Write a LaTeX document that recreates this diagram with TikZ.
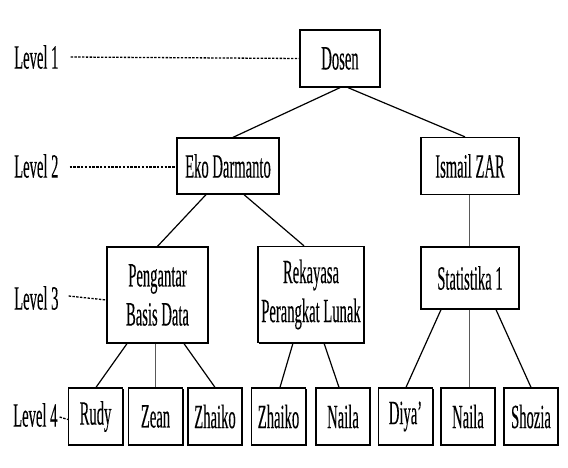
\documentclass[tikz,border=0pt]{standalone}
\usepackage{fontspec}
\setmainfont{Liberation Serif}[FakeStretch=0.43,FakeBold=0.2]
\usetikzlibrary{shadows}
\begin{document}
\begin{tikzpicture}[x=1pt,y=-1pt,
  every node/.style={font=\fontsize{34}{39}\selectfont},
  box/.style={draw=black, line width=1.3pt, fill=white, inner sep=0pt, align=center,
    drop shadow={shadow xshift=1pt, shadow yshift=-1pt, fill=black, opacity=1}},
  leaf/.style={box, minimum width=54pt, minimum height=57pt},
  lvl/.style={anchor=west, inner sep=0pt},
  link/.style={line width=1.2pt, black},
  vlink/.style={line width=0.9pt, black!65},
  dots/.style={line width=1.3pt, dash pattern=on 2.4pt off 1.4pt}]
\useasboundingbox (0,0) rectangle (568,468);

% level 1-2
\node[box, minimum width=80pt, minimum height=57pt] (dosen) at (340,58.5) {Dosen};
\node[box, minimum width=102pt, minimum height=56pt] (eko) at (228,166) {Eko Darmanto};
\node[box, minimum width=98pt, minimum height=57pt] (ismail) at (470,166) {Ismail ZAR};
% level 3
\node[box, minimum width=101pt, minimum height=96pt] (peng) at (157.5,295) {Pengantar\\Basis Data};
\node[box, minimum width=106pt, minimum height=96pt] (reka) at (311,294.5) {Rekayasa\\Perangkat Lunak};
\node[box, minimum width=98pt, minimum height=62pt] (stat) at (470,278) {Statistika 1};
% level 4
\node[leaf] (rudy) at (95.5,416.5) {Rudy};
\node[leaf] (zean) at (155.5,416.5) {Zean};
\node[leaf] (zhaikoa) at (215,416.5) {Zhaiko};
\node[leaf] (zhaikob) at (278.5,416.5) {Zhaiko};
\node[leaf] (nailaa) at (343,416.5) {Naila};
\node[leaf] (diya) at (405.5,416.5) {Diya’};
\node[leaf] (nailab) at (468,416.5) {Naila};
\node[leaf] (shozia) at (531,416.5) {Shozia};

% level labels
\node[lvl] (l1) at (14,57) {Level 1};
\node[lvl] (l2) at (14,166) {Level 2};
\node[lvl] (l3) at (14,298) {Level 3};
\node[lvl] (l4) at (13,415) {Level 4};

\draw[dots] ([xshift=12pt]l1.east) -- (dosen.west);
\draw[dots] ([xshift=11pt,yshift=-1pt]l2.east) -- ([yshift=-1pt]eko.west);
\draw[dots] ([xshift=10pt,yshift=2pt]l3.east) -- (peng.west |- 0,300);
\draw[dots] ([xshift=2pt,yshift=-2pt]l4.east) -- ([yshift=-3pt]rudy.west);

% connectors
\draw[link] (dosen.south) -- ([xshift=5pt]eko.north);
\draw[link] ([xshift=8pt]dosen.south) -- ([xshift=-5pt]ismail.north);
\draw[vlink] ([xshift=-1pt]ismail.south) -- ([xshift=-1pt]stat.north);
\draw[link] ([xshift=-22pt]eko.south) -- (peng.north);
\draw[link] ([xshift=16pt]eko.south) -- ([xshift=-7pt]reka.north);
\draw[link] ([xshift=-30.5pt]peng.south) -- ([xshift=0.5pt]rudy.north);
\draw[vlink] (zean.north |- peng.south) -- (zean.north);
\draw[link] ([xshift=26.5pt]peng.south) -- (zhaikoa.north);
\draw[link] ([xshift=-18pt]reka.south) -- ([xshift=1.5pt]zhaikob.north);
\draw[link] ([xshift=13pt]reka.south) -- ([xshift=-4pt]nailaa.north);
\draw[link] ([xshift=-29pt]stat.south) -- ([xshift=0.5pt]diya.north);
\draw[vlink] ([xshift=-1pt]stat.south) -- ([xshift=1pt]nailab.north);
\draw[link] ([xshift=26pt]stat.south) -- (shozia.north);
\end{tikzpicture}
\end{document}
